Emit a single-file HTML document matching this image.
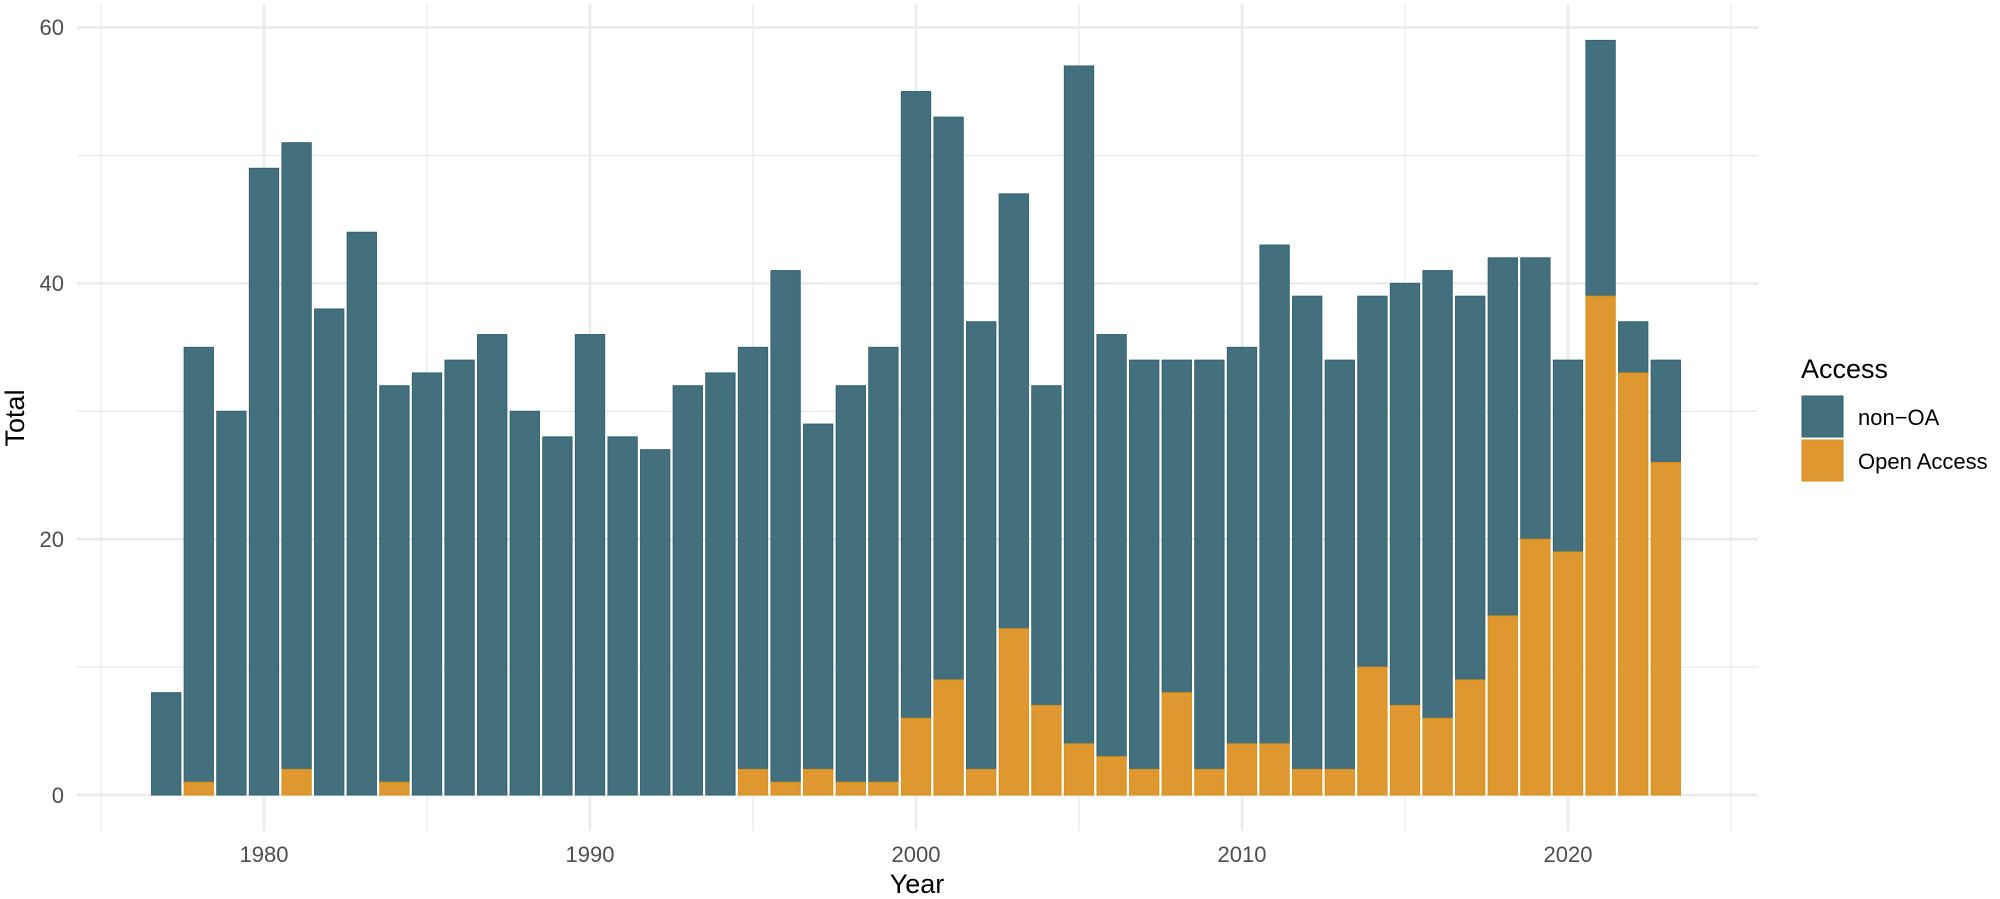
<!DOCTYPE html>
<html><head><meta charset="utf-8"><style>
html,body{margin:0;padding:0;background:#fff;}
svg{display:block;font-family:"Liberation Sans",Arial,sans-serif;}
</style></head><body>
<svg id="c" width="2000" height="899" viewBox="0 0 2000 899" xmlns="http://www.w3.org/2000/svg">
<g id="grid" stroke="#ebebeb"></g>
<g id="bars"></g>
<g font-size="22" fill="#4d4d4d" text-anchor="end">
<text x="64" y="803">0</text>
<text x="64" y="547">20</text>
<text x="64" y="291">40</text>
<text x="64" y="35">60</text>
</g>
<g font-size="22" fill="#4d4d4d" text-anchor="middle">
<text x="264" y="862">1980</text>
<text x="590" y="862">1990</text>
<text x="916" y="862">2000</text>
<text x="1242" y="862">2010</text>
<text x="1568" y="862">2020</text>
</g>
<text x="917" y="893" font-size="27" text-anchor="middle" fill="#000">Year</text>
<text transform="translate(24,418) rotate(-90)" font-size="27" text-anchor="middle" fill="#000">Total</text>
<text x="1801" y="378" font-size="27" fill="#000">Access</text>
<rect x="1802" y="396" width="41" height="41" fill="#44707e" stroke="#2f6272"/>
<rect x="1802" y="440" width="41" height="41" fill="#de982f" stroke="#d98f1a"/>
<text x="1858" y="425" font-size="22" fill="#000">non−OA</text>
<text x="1858" y="469" font-size="22" fill="#000">Open Access</text>
</svg>
<script>
(function(){
var NS="http://www.w3.org/2000/svg";
var g=document.getElementById("grid"),b=document.getElementById("bars");
function X(y){return 264+(y-1980)*32.6;}
function Y(v){return 795-v*12.79;}
function el(p,a){var e=document.createElementNS(NS,"rect");for(var k in a)e.setAttribute(k,a[k]);p.appendChild(e);}
function line(x1,y1,x2,y2,w){var e=document.createElementNS(NS,"line");e.setAttribute("x1",x1);e.setAttribute("y1",y1);e.setAttribute("x2",x2);e.setAttribute("y2",y2);e.setAttribute("stroke-width",w);g.appendChild(e);}
for(var v=0;v<=60;v+=10)line(77,Y(v),1758,Y(v),v%20?1.3:2.6);
for(var yr=1975;yr<=2025;yr+=5)line(X(yr),4,X(yr),831,yr%10?1.3:2.6);
var d=[[1977,8,0],[1978,35,1],[1979,30,0],[1980,49,0],[1981,51,2],[1982,38,0],[1983,44,0],[1984,32,1],[1985,33,0],[1986,34,0],[1987,36,0],[1988,30,0],[1989,28,0],[1990,36,0],[1991,28,0],[1992,27,0],[1993,32,0],[1994,33,0],[1995,35,2],[1996,41,1],[1997,29,2],[1998,32,1],[1999,35,1],[2000,55,6],[2001,53,9],[2002,37,2],[2003,47,13],[2004,32,7],[2005,57,4],[2006,36,3],[2007,34,2],[2008,34,8],[2009,34,2],[2010,35,4],[2011,43,4],[2012,39,2],[2013,34,2],[2014,39,10],[2015,40,7],[2016,41,6],[2017,39,9],[2018,42,14],[2019,42,20],[2020,34,19],[2021,59,39],[2022,37,33],[2023,34,26]];
var w=29.3;
d.forEach(function(r){
var x=X(r[0])-w/2;
el(b,{x:x,y:Y(r[1]),width:w,height:(r[1]-r[2])*12.79,fill:"#44707e",stroke:"#2f6272","stroke-width":1});
if(r[2]>0)el(b,{x:x,y:Y(r[2]),width:w,height:r[2]*12.79,fill:"#de982f",stroke:"#d98f1a","stroke-width":1});
});
})();
</script>
</body></html>
